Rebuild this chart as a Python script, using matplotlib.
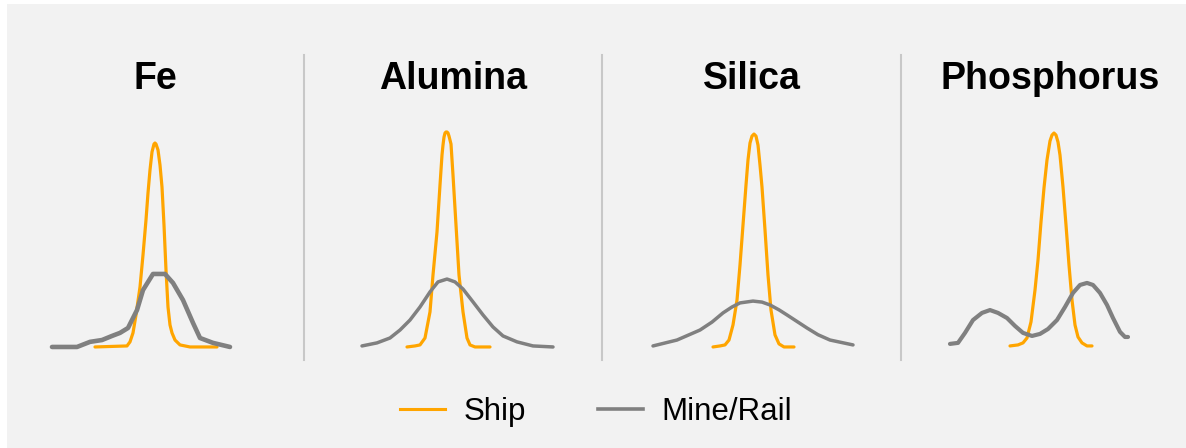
import matplotlib
matplotlib.use("Agg")
import matplotlib.pyplot as plt
from matplotlib.patches import Rectangle
from matplotlib.lines import Line2D

plt.rcParams['font.family'] = ['Liberation Sans', 'DejaVu Sans']

titles = ["Fe", "Alumina", "Silica", "Phosphorus"]

# relative grade (x) and relative density (y)
ship_x = [
    [-1.2, -0.56, -0.5, -0.44, -0.38, -0.3, -0.24, -0.18, -0.14, -0.1, -0.06, -0.02, 0, 0.02, 0.06, 0.1,
     0.14, 0.18, 0.22, 0.26, 0.3, 0.34, 0.4, 0.5, 0.7, 1.24],
    [-0.92, -0.76, -0.66, -0.56, -0.46, -0.4, -0.32, -0.26, -0.22, -0.2, -0.18, -0.16, -0.14, -0.12, -0.1,
     -0.08, -0.04, 0, 0.06, 0.12, 0.2, 0.28, 0.34, 0.44, 0.74],
    [-0.78, -0.64, -0.54, -0.46, -0.38, -0.3, -0.24, -0.18, -0.12, -0.08, -0.04, 0, 0.04, 0.08, 0.12, 0.16,
     0.2, 0.26, 0.32, 0.38, 0.46, 0.54, 0.64, 0.84],
    [-0.8, -0.64, -0.54, -0.46, -0.38, -0.3, -0.24, -0.18, -0.12, -0.06, 0, 0.04, 0.08, 0.12, 0.16, 0.2,
     0.26, 0.32, 0.38, 0.44, 0.5, 0.56, 0.64, 0.74, 0.84],
]
ship_y = [
    [0, 0.005, 0.025, 0.069, 0.157, 0.294, 0.451, 0.623, 0.755, 0.868, 0.956, 0.995, 1.0, 0.995, 0.966, 0.892,
     0.784, 0.598, 0.377, 0.196, 0.108, 0.069, 0.034, 0.01, 0, 0],
    [0, 0.005, 0.01, 0.044, 0.172, 0.353, 0.564, 0.794, 0.941, 0.99, 1.029, 1.049, 1.054, 1.054, 1.049,
     1.034, 0.995, 0.843, 0.598, 0.353, 0.172, 0.044, 0.01, 0, 0],
    [0, 0.005, 0.01, 0.034, 0.108, 0.23, 0.402, 0.598, 0.794, 0.917, 1.0, 1.034, 1.044, 1.034, 0.99, 0.892,
     0.784, 0.574, 0.353, 0.181, 0.059, 0.015, 0, 0],
    [0.005, 0.01, 0.02, 0.044, 0.123, 0.279, 0.426, 0.613, 0.78, 0.917, 1.01, 1.039, 1.049, 1.039, 1.005, 0.941,
     0.784, 0.598, 0.402, 0.23, 0.108, 0.049, 0.02, 0.005, 0.005],
]

mine_x = [
    [-2.06, -1.56, -1.3, -1.06, -0.86, -0.7, -0.54, -0.36, -0.24, -0.04, 0.2, 0.36, 0.56, 0.76, 0.9, 1.16, 1.5],
    [-1.82, -1.52, -1.26, -1.06, -0.86, -0.66, -0.46, -0.3, -0.12, 0.04, 0.2, 0.4, 0.6, 0.8, 1.0, 1.28, 1.6, 2.0],
    [-1.98, -1.5, -1.04, -0.8, -0.58, -0.4, -0.24, 0.02, 0.2, 0.36, 0.54, 0.7, 0.9, 1.1, 1.32, 1.56, 2.02],
    [-2.0, -1.84, -1.7, -1.54, -1.36, -1.2, -1.04, -0.86, -0.7, -0.54, -0.36, -0.2, -0.04, 0.14, 0.3, 0.46,
     0.6, 0.74, 0.86, 1.0, 1.14, 1.26, 1.4, 1.5, 1.56],
]
mine_y = [
    [0, 0, 0.025, 0.034, 0.054, 0.069, 0.093, 0.181, 0.279, 0.358, 0.358, 0.314, 0.23, 0.118, 0.044, 0.02, 0],
    [0.005, 0.02, 0.044, 0.083, 0.132, 0.196, 0.27, 0.319, 0.333, 0.319, 0.284, 0.221, 0.157, 0.098, 0.054,
     0.025, 0.005, 0],
    [0.005, 0.034, 0.083, 0.122, 0.167, 0.196, 0.216, 0.225, 0.22, 0.206, 0.182, 0.157, 0.125, 0.093, 0.06, 0.034, 0.01],
    [0.015, 0.02, 0.069, 0.132, 0.167, 0.181, 0.167, 0.142, 0.103, 0.069, 0.054, 0.064, 0.088, 0.132, 0.196, 0.265,
     0.304, 0.314, 0.304, 0.265, 0.206, 0.142, 0.074, 0.049, 0.049],
]
mine_lw = [3.3, 2.5, 2.5, 3.0]

orange = "#ffa500"
grey = "#808080"
W, H = 1186, 448
centers = [155, 453, 752, 1050]

fig = plt.figure(figsize=(W / 100, H / 100), dpi=100)
fig.patch.set_facecolor("white")
fig.patches.append(Rectangle((7 / W, 0), 1, (H - 4) / H, transform=fig.transFigure,
                             facecolor="#f2f2f2", edgecolor="none", zorder=-10))

for i in range(4):
    c = centers[i]
    ax = fig.add_axes([(c - 149) / W, (H - 380) / H, 298 / W, 280 / H])
    ax.set_zorder(2)
    ax.set_facecolor("none")
    ax.plot(ship_x[i], ship_y[i], color=orange, lw=2.3, solid_capstyle="round",
            solid_joinstyle="round", zorder=2)
    ax.plot(mine_x[i], mine_y[i], color=grey, lw=mine_lw[i], solid_capstyle="round",
            solid_joinstyle="round", zorder=3)
    ax.set_xlim(-2.98, 2.98)
    ax.set_ylim(-0.162, 1.211)
    ax.axis("off")
    fig.text(c / W, 1 - 79 / H, titles[i], ha="center", va="center",
             fontsize=27, fontweight="bold")

for sx in [304, 602, 901]:
    fig.add_artist(Line2D([sx / W, sx / W], [1 - 55 / H, 1 - 360 / H],
                          color="#c8c8c8", lw=1.5, transform=fig.transFigure))

handles = [Line2D([], [], color=orange, lw=2.2), Line2D([], [], color=grey, lw=2.6)]
fig.legend(handles, ["Ship", "Mine/Rail"], loc="center", ncol=2,
           bbox_to_anchor=(596 / W, 1 - 412 / H), frameon=False, fontsize=22.5,
           handlelength=1.45, handletextpad=0.6, columnspacing=2.3)

fig.savefig("out.png", dpi=100, facecolor=fig.get_facecolor())
